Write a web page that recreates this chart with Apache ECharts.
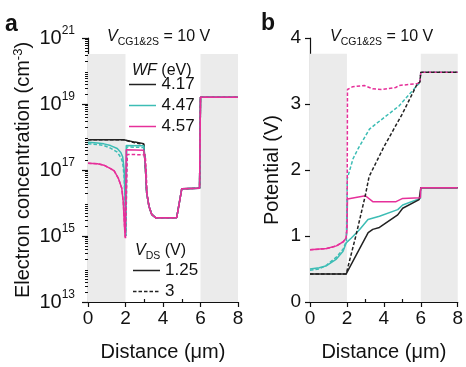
<!DOCTYPE html>
<html>
<head>
<meta charset="utf-8">
<script src="https://cdn.jsdelivr.net/npm/echarts@6.0.0/dist/echarts.min.js"></script>
<style>
  html, body { margin: 0; padding: 0; background: #fff; }
  #chart { width: 466px; height: 367px; }
</style>
</head>
<body>
<div id="chart"></div>
<script>
// panel a: electron concentration (cm^-3) vs distance (um), [x, n]
const nA_417_125 = [[0, 8.3e17], [1.9, 8.3e17], [2.0, 7.6e17], [2.5, 7.0e17], [2.97, 6.3e17],
  [3.05, 1.6e17], [3.13, 2.0e16], [3.25, 8.0e15], [3.4, 4.5e15], [3.6, 3.6e15], [4.73, 3.6e15],
  [5.0, 2.7e16], [5.95, 2.8e16], [6.0, 1.6e19], [8.0, 1.6e19]]
const nA_417_3 = [[0, 8.2e17], [1.9, 8.2e17], [2.0, 7.3e17], [2.5, 6.7e17], [2.97, 6.0e17],
  [3.05, 1.6e17], [3.13, 2.0e16], [3.25, 8.0e15], [3.4, 4.5e15], [3.6, 3.6e15], [4.73, 3.6e15],
  [5.0, 2.7e16], [5.95, 2.8e16], [6.0, 1.6e19], [8.0, 1.6e19]]
const nA_447_125 = [[0, 6.9e17], [0.5, 6.6e17], [0.85, 6.2e17], [1.2, 5.5e17], [1.56, 4.5e17],
  [1.75, 3.4e17], [1.85, 2.5e17], [1.93, 1.0e17], [1.98, 1.0e16], [2.01, 1.5e15], [2.04, 5.5e17],
  [2.97, 5.4e17], [3.05, 1.6e17], [3.13, 2.0e16], [3.25, 8.0e15], [3.4, 4.5e15], [3.6, 3.6e15],
  [4.73, 3.6e15], [5.0, 2.7e16], [5.95, 2.8e16], [6.0, 1.6e19], [8.0, 1.6e19]]
const nA_447_3 = [[0, 6.2e17], [0.5, 5.9e17], [0.85, 5.5e17], [1.2, 4.6e17], [1.56, 3.5e17],
  [1.75, 2.4e17], [1.85, 1.7e17], [1.93, 6.0e16], [1.99, 5.0e15], [2.03, 1.0e15], [2.07, 5.0e17],
  [2.97, 4.8e17], [3.05, 1.6e17], [3.13, 2.0e16], [3.25, 8.0e15], [3.4, 4.5e15], [3.6, 3.6e15],
  [4.73, 3.6e15], [5.0, 2.7e16], [5.95, 2.8e16], [6.0, 1.6e19], [8.0, 1.6e19]]
const nA_457_125 = [[0, 1.6e17], [0.5, 1.55e17], [0.85, 1.4e17], [1.2, 1.1e17], [1.39, 9.5e16],
  [1.62, 5.6e16], [1.8, 2.8e16], [1.88, 1.1e16], [1.94, 2.2e15], [1.98, 9.0e14], [2.04, 4.1e17],
  [2.97, 4.0e17], [3.05, 1.6e17], [3.13, 2.0e16], [3.25, 8.0e15], [3.4, 4.5e15], [3.6, 3.6e15],
  [4.73, 3.6e15], [5.0, 2.7e16], [5.95, 2.8e16], [6.0, 1.6e19], [8.0, 1.6e19]]
const nA_457_3 = [[0, 1.6e17], [0.5, 1.55e17], [0.85, 1.4e17], [1.2, 1.1e17], [1.39, 9.5e16],
  [1.62, 5.6e16], [1.8, 2.8e16], [1.88, 1.1e16], [1.95, 2.0e15], [2.0, 8.0e14], [2.1, 2.95e17],
  [3.05, 2.9e17], [3.1, 1.2e17], [3.15, 2.0e16], [3.25, 8.0e15], [3.4, 4.5e15], [3.6, 3.6e15],
  [4.73, 3.6e15], [5.0, 2.7e16], [5.95, 2.8e16], [6.0, 1.6e19], [8.0, 1.6e19]]

// panel b: potential (V) vs distance (um), [x, V]
const pB_417_125 = [[0, 0.425], [1.96, 0.425], [2.5, 0.71], [3.15, 1.05], [3.4, 1.1], [3.76, 1.13],
  [4.75, 1.32], [5.02, 1.42], [5.91, 1.55], [5.98, 1.57], [6.0, 1.73], [8.0, 1.73]]
const pB_447_125 = [[0, 0.5], [0.5, 0.52], [0.9, 0.55], [1.43, 0.65], [1.79, 0.77], [1.97, 0.9],
  [2.24, 0.97], [2.69, 1.1], [3.14, 1.25], [3.76, 1.3], [4.75, 1.4], [5.02, 1.47], [5.98, 1.57],
  [6.0, 1.73], [8.0, 1.73]]
const pB_457_125 = [[0, 0.79], [0.9, 0.81], [1.43, 0.85], [1.79, 0.91], [1.96, 0.97], [2.0, 1.1],
  [2.03, 1.56], [3.0, 1.61], [3.4, 1.52], [4.66, 1.52], [5.02, 1.57], [5.98, 1.58], [6.0, 1.73],
  [8.0, 1.73]]
const pB_417_3 = [[0, 0.425], [1.96, 0.425], [2.5, 1.02], [3.0, 1.62], [3.2, 1.9], [4.0, 2.35],
  [5.0, 2.85], [5.8, 3.3], [5.95, 3.33], [6.0, 3.48], [8.0, 3.48]]
const pB_447_3 = [[0, 0.48], [0.5, 0.5], [0.9, 0.56], [1.43, 0.68], [1.79, 0.8], [1.97, 0.92],
  [2.02, 1.87], [2.33, 2.17], [2.6, 2.32], [3.22, 2.62], [3.58, 2.7], [4.82, 2.97], [5.8, 3.28],
  [5.95, 3.32], [6.0, 3.48], [8.0, 3.48]]
const pB_457_3 = [[0, 0.79], [0.9, 0.81], [1.43, 0.85], [1.79, 0.91], [1.96, 0.97], [2.01, 1.2],
  [2.03, 3.22], [2.3, 3.26], [2.94, 3.28], [3.39, 3.23], [3.92, 3.22], [4.64, 3.25], [4.82, 3.28],
  [5.8, 3.31], [5.95, 3.32], [6.0, 3.48], [8.0, 3.48]]

const wfNames = ['4.17', '4.47', '4.57']
const vdsNames = ['1.25', '3']
const yTicksA = [1e13, 1e15, 1e17, 1e19, 0.99999e21]
const minorX = [1, 3, 5, 7]
const minorYB = [0.5, 1.5, 2.5, 3.5]
// shaded source / drain regions
const grayX = [[0, 2], [6, 8]]
const grayTopA = 3.3e20
const grayTopB = 3.76

const FONT = '"Liberation Sans", Arial, sans-serif'
const INK = '#111'
const colors = { '4.17': '#222222', '4.47': '#3dbdb5', '4.57': '#e6309a' }
const DASH = [3.5, 2]
const SOLID_KEY = 'path://M0,0h27v1.5h-27z'
const DASH_KEY = 'path://M0,0h3.5v1.5h-3.5z M5.5,0h3.5v1.5h-3.5z M11,0h3.5v1.5h-3.5z M16.5,0h3.5v1.5h-3.5z M22,0h3.5v1.5h-3.5z M27,0h0.01v1.5h-0.01z'

const minorYA = []
for (let e = 13; e < 21; e++) {
  for (let k = 2; k <= 9; k++) minorYA.push(k * Math.pow(10, e))
}

const chart = echarts.init(document.getElementById('chart'), null, { renderer: 'canvas' })

function mainX(gridIndex) {
  return {
    gridIndex, type: 'value', min: 0, max: 8, interval: 2,
    name: 'Distance (μm)', nameLocation: 'middle', nameGap: 40,
    nameTextStyle: { fontFamily: FONT, fontSize: 20, color: INK },
    axisLine: { lineStyle: { color: INK, width: 1.2 } },
    axisTick: { length: 5, lineStyle: { color: INK, width: 1.2 } },
    axisLabel: { fontFamily: FONT, fontSize: 19, color: INK, margin: 7 },
    splitLine: { show: false },
  }
}

function minorAxis(gridIndex, type, extra) {
  return Object.assign({
    gridIndex, type,
    axisLine: { show: false },
    axisLabel: { show: false },
    splitLine: { show: false },
  }, extra)
}

function grayArea(top, bottom) {
  return {
    silent: true,
    itemStyle: { color: '#ebebeb' },
    data: grayX.map(r => [{ xAxis: r[0], yAxis: bottom }, { xAxis: r[1], yAxis: top }]),
  }
}

function line(name, data, xi, yi, dashed, extra) {
  return Object.assign({
    name, type: 'line', data, xAxisIndex: xi, yAxisIndex: yi,
    symbol: 'none', smooth: false, z: 3,
    lineStyle: { color: colors[name.split(' ')[0]], width: 1.5, type: dashed ? DASH : 'solid' },
    itemStyle: { color: colors[name.split(' ')[0]] },
  }, extra)
}

const subRich = {
  i: { fontFamily: FONT, fontSize: 16, fontStyle: 'italic', fontWeight: 'normal', color: INK, lineHeight: 22 },
  n: { fontFamily: FONT, fontSize: 16, fontWeight: 'normal', color: INK, lineHeight: 22 },
  sub: { fontFamily: FONT, fontSize: 10.5, fontWeight: 'normal', color: INK, lineHeight: 11, verticalAlign: 'bottom' },
}

const legendText = { fontFamily: FONT, fontSize: 17, color: INK }

const option = {
  animation: false,
  backgroundColor: '#fff',
  title: [
    { text: 'a', left: 0, top: 8, textStyle: { fontFamily: FONT, fontSize: 23, fontWeight: 'bold', color: INK } },
    { text: 'b', left: 256, top: 7, textStyle: { fontFamily: FONT, fontSize: 23, fontWeight: 'bold', color: INK } },
    { text: '{i|V}{sub|CG1&2S}{n| = 10 V}', left: 102, top: 21, textStyle: { fontWeight: 'normal', rich: subRich } },
    { text: '{i|V}{sub|CG1&2S}{n| = 10 V}', left: 325, top: 21, textStyle: { fontWeight: 'normal', rich: subRich } },
    { text: '{i|WF}{n| (eV)}', left: 127, top: 55, textStyle: { fontWeight: 'normal', rich: subRich } },
    { text: '{i|V}{sub|DS}{n| (V)}', left: 130, top: 235, textStyle: { fontWeight: 'normal', rich: subRich } },
  ],
  legend: [
    {
      data: wfNames.map(n => ({ name: n, icon: SOLID_KEY })),
      orient: 'vertical', left: 124, top: 71, itemWidth: 28, itemHeight: 1.5, itemGap: 4,
      itemStyle: { borderWidth: 0 }, textStyle: legendText, selectedMode: false,
    },
    {
      data: [{ name: vdsNames[0], icon: SOLID_KEY }, { name: vdsNames[1], icon: DASH_KEY }],
      orient: 'vertical', left: 128, top: 257, itemWidth: 27, itemHeight: 1.5, itemGap: 4,
      itemStyle: { borderWidth: 0 }, textStyle: legendText, selectedMode: false,
    },
  ],
  grid: [
    { left: 88, top: 38, width: 150, height: 267 },
    { left: 310, top: 38, width: 149, height: 267 },
  ],
  xAxis: [
    mainX(0),
    minorAxis(0, 'value', { min: 0, max: 8, position: 'bottom',
      axisTick: { inside: true, length: 3, customValues: minorX, lineStyle: { color: INK, width: 1.2 } } }),
    mainX(1),
    minorAxis(1, 'value', { min: 0, max: 8, position: 'bottom',
      axisTick: { inside: true, length: 3, customValues: minorX, lineStyle: { color: INK, width: 1.2 } } }),
  ],
  yAxis: [
    {
      gridIndex: 0, type: 'log', logBase: 10, min: 1e13, max: 1e21,
      name: 'Electron concentration (cm{s|-3})', nameLocation: 'middle', nameGap: 46,
      nameTextStyle: { fontFamily: FONT, fontSize: 20, color: INK, lineHeight: 24,
        rich: { s: { fontFamily: FONT, fontSize: 13, color: INK, lineHeight: 13, verticalAlign: 'top' } } },
      axisLine: { lineStyle: { color: INK, width: 1.2 } },
      axisTick: { length: 6, customValues: yTicksA, lineStyle: { color: INK, width: 1.2 } },
      axisLabel: {
        customValues: yTicksA, margin: 13,
        formatter: v => '{b|10}{s|' + Math.round(Math.log10(v)) + '}',
        rich: {
          b: { fontFamily: FONT, fontSize: 20, color: INK, lineHeight: 26 },
          s: { fontFamily: FONT, fontSize: 12, color: INK, lineHeight: 12, verticalAlign: 'top' },
        },
      },
      splitLine: { show: false },
    },
    minorAxis(0, 'log', { logBase: 10, min: 1e13, max: 1e21, position: 'left',
      axisTick: { length: 3, customValues: minorYA, lineStyle: { color: INK, width: 1 } } }),
    {
      gridIndex: 1, type: 'value', min: 0, max: 4, interval: 1,
      name: 'Potential (V)', nameLocation: 'middle', nameGap: 28,
      nameTextStyle: { fontFamily: FONT, fontSize: 20, color: INK },
      axisLine: { lineStyle: { color: INK, width: 1.2 } },
      axisTick: { length: 5, lineStyle: { color: INK, width: 1.2 } },
      axisLabel: { fontFamily: FONT, fontSize: 19, color: INK, margin: 9 },
      splitLine: { show: false },
    },
    minorAxis(1, 'value', { min: 0, max: 4, position: 'left',
      axisTick: { inside: true, length: 3, customValues: minorYB, lineStyle: { color: INK, width: 1.2 } } }),
  ],
  series: [
    line('4.17', nA_417_125, 0, 0, false, { markArea: grayArea(grayTopA, 1e13) }),
    line('4.17 d', nA_417_3, 0, 0, true),
    line('4.47', nA_447_125, 0, 0, false),
    line('4.47 d', nA_447_3, 0, 0, true),
    line('4.57', nA_457_125, 0, 0, false),
    line('4.57 d', nA_457_3, 0, 0, true),

    line('4.47', pB_447_125, 2, 2, false, { markArea: grayArea(grayTopB, 0) }),
    line('4.17', pB_417_125, 2, 2, false),
    line('4.57', pB_457_125, 2, 2, false),
    line('4.47 d', pB_447_3, 2, 2, true),
    line('4.57 d', pB_457_3, 2, 2, true),
    line('4.17 d', pB_417_3, 2, 2, true),

    // legend keys for the drain bias
    { name: '1.25', type: 'line', data: [], xAxisIndex: 0, yAxisIndex: 0, symbol: 'none',
      lineStyle: { color: '#222', width: 1.5 }, itemStyle: { color: '#222' } },
    { name: '3', type: 'line', data: [], xAxisIndex: 0, yAxisIndex: 0, symbol: 'none',
      lineStyle: { color: '#222', width: 1.5, type: DASH }, itemStyle: { color: '#222' } },
  ],
}

chart.setOption(option)
</script>
</body>
</html>
